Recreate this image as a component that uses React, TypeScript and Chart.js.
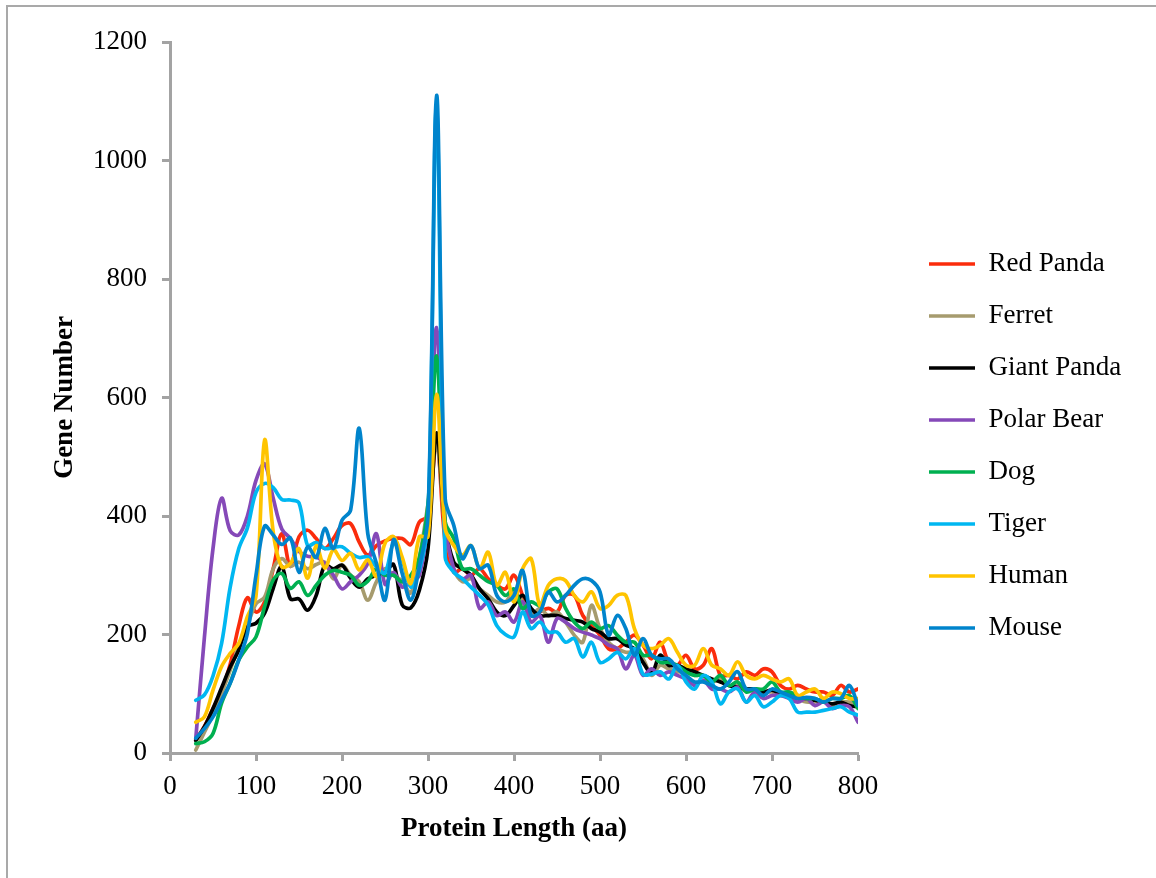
import React, { useEffect, useRef } from "react";
import { Chart, registerables } from "chart.js";

Chart.register(...registerables);

const proteinLength = [
  30, 40, 50, 60, 70, 80, 90, 100, 110, 120,
  130, 140, 150, 160, 170, 180, 190, 200, 210, 220,
  230, 240, 250, 260, 270, 280, 290, 300, 310, 320,
  330, 340, 350, 360, 370, 380, 390, 400, 410, 420,
  430, 440, 450, 460, 470, 480, 490, 500, 510, 520,
  530, 540, 550, 560, 570, 580, 590, 600, 610, 620,
  630, 640, 650, 660, 670, 680, 690, 700, 710, 720,
  730, 740, 750, 760, 770, 780, 790, 800,
];

const redPanda = [
  22, 45, 75, 105, 150, 215, 262, 238, 255, 311,
  370, 315, 365, 376, 362, 345, 362, 384, 387, 356,
  334, 350, 358, 362, 362, 352, 390, 400, 530, 356,
  305, 311, 300, 311, 294, 283, 277, 300, 266, 232,
  238, 244, 238, 266, 266, 232, 215, 199, 176, 176,
  187, 199, 182, 159, 187, 153, 148, 165, 142, 148,
  176, 131, 131, 125, 137, 131, 142, 137, 114, 108,
  114, 108, 103, 103, 97, 114, 103, 108,
];

const ferret = [
  5, 35, 65, 100, 140, 180, 215, 252, 263, 311,
  328, 315, 322, 311, 318, 322, 294, 317, 300, 289,
  258, 289, 311, 300, 290, 270, 330, 420, 520, 380,
  311, 289, 294, 277, 266, 255, 255, 272, 255, 232,
  244, 232, 238, 221, 199, 187, 249, 210, 187, 176,
  170, 170, 159, 131, 148, 142, 137, 137, 131, 131,
  120, 125, 114, 114, 108, 108, 103, 103, 97, 97,
  92, 86, 86, 92, 80, 86, 86, 86,
];

const giantPanda = [
  21, 44, 75, 110, 145, 174, 213, 219, 236, 278,
  315, 260, 260, 241, 266, 317, 311, 317, 295, 280,
  294, 300, 305, 318, 250, 245, 275, 345, 540, 384,
  322, 311, 300, 277, 260, 238, 232, 249, 266, 244,
  232, 232, 232, 227, 224, 221, 210, 204, 193, 193,
  182, 176, 153, 135, 165, 148, 148, 142, 137, 131,
  125, 120, 114, 111, 108, 108, 103, 106, 100, 97,
  92, 92, 89, 86, 83, 86, 80, 78,
];

const polarBear = [
  25, 195, 345, 430, 375, 368, 400, 460, 488, 430,
  378, 362, 340, 332, 331, 320, 300, 277, 289, 300,
  320, 370, 285, 305, 280, 290, 300, 400, 718, 390,
  311, 294, 300, 244, 255, 232, 238, 221, 255, 221,
  232, 187, 227, 221, 210, 204, 199, 193, 182, 176,
  142, 165, 131, 142, 131, 137, 131, 125, 114, 123,
  108, 108, 103, 111, 86, 103, 92, 97, 97, 92,
  86, 92, 80, 86, 75, 80, 78, 52,
];

const dog = [
  16, 19, 33, 84, 118, 157, 179, 196, 247, 292,
  303, 278, 289, 266, 283, 300, 308, 305, 300, 283,
  290, 311, 300, 300, 289, 300, 330, 420, 670, 390,
  362, 311, 311, 300, 289, 283, 266, 277, 244, 255,
  249, 272, 277, 244, 221, 210, 221, 210, 215, 199,
  187, 187, 165, 165, 153, 153, 148, 137, 131, 131,
  120, 131, 114, 120, 103, 108, 108, 120, 103, 103,
  97, 92, 92, 86, 92, 92, 97, 75,
];

const tiger = [
  89, 98, 130, 185, 280, 345, 380, 440, 455, 448,
  428, 427, 422, 350, 355, 345, 347, 348, 337, 330,
  331, 314, 304, 354, 326, 280, 310, 390, 1090, 330,
  305, 294, 280, 266, 250, 215, 200, 196, 238, 210,
  221, 204, 204, 187, 193, 162, 187, 153, 159, 170,
  159, 176, 133, 133, 137, 125, 148, 120, 108, 131,
  120, 83, 103, 108, 86, 97, 78, 86, 97, 92,
  69, 69, 69, 72, 75, 78, 69, 64,
];

const human = [
  52, 61, 106, 146, 168, 185, 230, 265, 528, 373,
  314, 320, 345, 295, 350, 312, 343, 325, 337, 309,
  326, 298, 354, 365, 330, 286, 365, 365, 605, 379,
  350, 334, 350, 311, 339, 283, 305, 255, 311, 328,
  249, 283, 294, 291, 266, 255, 272, 244, 249, 266,
  266, 210, 182, 176, 182, 193, 170, 148, 148, 176,
  148, 142, 131, 154, 131, 125, 131, 125, 120, 125,
  97, 103, 108, 92, 103, 100, 92, 92,
];

const mouse = [
  25, 41, 61, 89, 118, 157, 202, 300, 383, 368,
  352, 363, 305, 348, 330, 379, 345, 393, 410, 548,
  370, 320, 258, 360, 303, 258, 315, 400, 1110, 429,
  384, 328, 350, 311, 317, 266, 255, 266, 308, 232,
  238, 272, 255, 266, 283, 294, 291, 272, 199, 232,
  210, 165, 193, 165, 159, 159, 142, 131, 120, 120,
  114, 108, 120, 137, 108, 108, 97, 108, 103, 97,
  92, 94, 92, 86, 92, 92, 114, 80,
];

const seriesNames = ["Red Panda", "Ferret", "Giant Panda", "Polar Bear", "Dog", "Tiger", "Human", "Mouse"];
const seriesColors = ["#FB2C0C", "#A69B6E", "#000000", "#8549B8", "#00B050", "#00B7F1", "#FFC400", "#0084CC"];
const xTickMin = 0;
const xTickMax = 800;
const xTickStep = 100;
const yTickMin = 0;
const yTickMax = 1200;
const yTickStep = 200;
const xAxisTitle = "Protein Length (aa)";
const yAxisTitle = "Gene Number";

const SERIF = "'Liberation Serif', 'Times New Roman', serif";
const AXIS_GRAY = "#a3a3a3";

export default function App() {
  const ref = useRef<HTMLCanvasElement>(null);

  useEffect(() => {
    const all = [redPanda, ferret, giantPanda, polarBear, dog, tiger, human, mouse];
    const datasets = all.map((vals, i) => ({
      label: seriesNames[i],
      data: vals.map((v, j) => ({ x: proteinLength[j], y: v })),
      borderColor: seriesColors[i],
      backgroundColor: seriesColors[i],
      borderWidth: 3.7,
      pointRadius: 0,
      pointHoverRadius: 0,
      pointBorderWidth: 3.7,
      pointBorderColor: seriesColors[i],
      tension: 0.35,
      fill: false,
      borderCapStyle: "round" as const,
      borderJoinStyle: "round" as const,
      order: all.length - i,
    }));

    const chart = new Chart(ref.current as HTMLCanvasElement, {
      type: "line",
      data: { datasets },
      options: {
        responsive: false,
        animation: false,
        events: [],
        layout: { padding: { left: 0, top: 42, right: 0, bottom: 28 } },
        plugins: {
          legend: {
            position: "right",
            align: "center",
            maxWidth: 260,
            labels: {
              usePointStyle: true,
              pointStyle: "line",
              pointStyleWidth: 46,
              padding: 25,
              color: "#000",
              font: { family: SERIF, size: 27 },
              sort: (a: any, b: any) => a.datasetIndex - b.datasetIndex,
            },
          },
          tooltip: { enabled: false },
        },
        scales: {
          x: {
            type: "linear",
            min: xTickMin,
            max: xTickMax,
            ticks: {
              stepSize: xTickStep,
              autoSkip: false,
              maxRotation: 0,
              padding: 10,
              color: "#000",
              font: { family: SERIF, size: 27 },
              callback: (v: any) => String(v),
            },
            grid: {
              display: true,
              drawOnChartArea: false,
              drawTicks: true,
              tickLength: 8,
              tickWidth: 3,
              tickColor: AXIS_GRAY,
            },
            border: { display: true, color: AXIS_GRAY, width: 3 },
            title: {
              display: true,
              text: xAxisTitle,
              color: "#000",
              font: { family: SERIF, size: 27, weight: "bold" },
              padding: { top: 0, bottom: 5 },
            },
            afterFit: (s: any) => {
              s.height = 97;
              s.paddingRight = 298;
            },
          },
          y: {
            type: "linear",
            position: "left",
            min: yTickMin,
            max: yTickMax,
            ticks: {
              stepSize: yTickStep,
              autoSkip: false,
              padding: 15,
              color: "#000",
              font: { family: SERIF, size: 27 },
              callback: (v: any) => String(v),
            },
            grid: {
              display: true,
              drawOnChartArea: false,
              drawTicks: true,
              tickLength: 8,
              tickWidth: 3,
              tickColor: AXIS_GRAY,
            },
            border: { display: true, color: AXIS_GRAY, width: 3 },
            title: {
              display: true,
              text: yAxisTitle,
              color: "#000",
              font: { family: SERIF, size: 27, weight: "bold" },
              padding: { top: 49, bottom: 0 },
            },
            afterFit: (s: any) => {
              s.width = 170;
            },
          },
          gap: {
            type: "linear",
            position: "right",
            display: true,
            grid: { display: false },
            border: { display: false },
            ticks: { display: false },
            afterFit: (s: any) => {
              s.width = 46;
            },
          },
        },
      } as any,
    });
    return () => chart.destroy();
  }, []);

  return (
    <div
      style={{
        position: "fixed",
        left: 0,
        top: 0,
        width: 1156,
        height: 878,
        background: "#fff",
        overflow: "hidden",
      }}
    >
      <div
        style={{
          position: "absolute",
          left: 6,
          top: 5,
          width: 1150,
          height: 873,
          boxSizing: "border-box",
          borderTop: "2px solid #a9a9a9",
          borderLeft: "2px solid #a9a9a9",
          pointerEvents: "none",
        }}
      />
      <canvas
        ref={ref}
        width={1156}
        height={878}
        style={{ position: "absolute", left: 0, top: 0, display: "block" }}
      />
    </div>
  );
}
